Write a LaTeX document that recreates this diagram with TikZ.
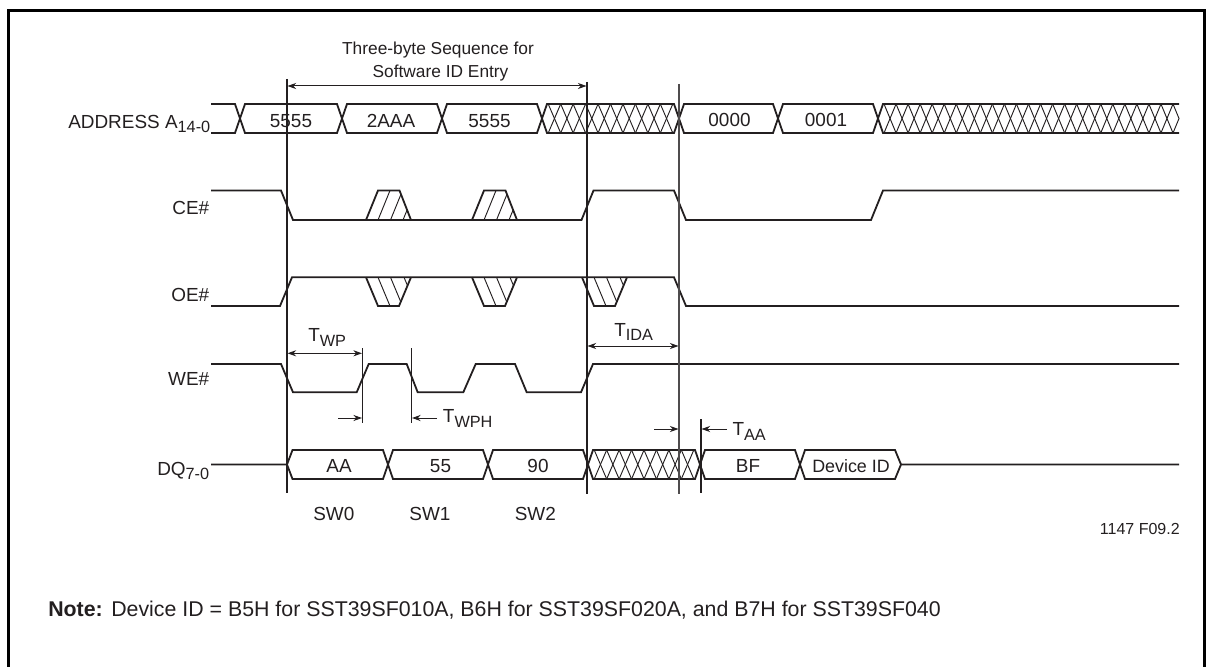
\documentclass[tikz,border=0pt]{standalone}
\usepackage{fontspec}
\setmainfont{Liberation Sans}
\usetikzlibrary{arrows.meta}
\definecolor{ink}{RGB}{35,31,32}
\tikzset{
  sig/.style={draw=ink,line width=1.35pt,line join=miter},
  thinhatch/.style={draw=ink,line width=0.7pt},
  guide/.style={draw=ink,line width=0.8pt},
  guideb/.style={draw=ink!80,line width=1.1pt},
  dim/.style={draw=ink,line width=0.75pt,{Stealth[length=6.5pt,width=4.6pt]}-{Stealth[length=6.5pt,width=4.6pt]}},
  dimr/.style={draw=ink,line width=0.75pt,-{Stealth[length=6.5pt,width=4.6pt]}},
  lab/.style={text=ink,inner sep=0pt,font=\fontsize{14.2}{16}\selectfont},
  small/.style={text=ink,inner sep=0pt,font=\fontsize{12}{14}\selectfont},
}
\newcommand{\subt}[1]{\raisebox{-3.6pt}{\fontsize{12.2}{14}\selectfont #1}}
% crossing hatch between x-points #1 and #2, #3 periods, rows #4 (top) and #5 (bottom)
\newcommand{\hatchrun}[5]{%
  \pgfmathsetmacro{\hp}{(#2-#1)/#3}%
  \pgfmathtruncatemacro{\hlast}{#3-1}%
  \foreach \k in {1,...,\hlast}{%
    \pgfmathsetmacro{\hc}{#1+\k*\hp}%
    \draw[thinhatch] (\hc-\hp/2,#4) -- (\hc+\hp/2,#5);
    \draw[thinhatch] (\hc-\hp/2,#5) -- (\hc+\hp/2,#4);
  }%
}
% slanted hatch strokes in a trapezoid
\newcommand{\trapup}[1]{% left bottom x
  \begin{scope}
    \clip (#1,220) -- (#1+12,190.5) -- (#1+33.5,190.5) -- (#1+45,220) -- cycle;
    \foreach \d in {12,24.5,37}{\draw[thinhatch] (#1+\d,220) -- (#1+\d+12,190.5);}
  \end{scope}
  \draw[sig] (#1,220) -- (#1+12,190.5) -- (#1+33.5,190.5) -- (#1+45,220);
}
\newcommand{\trapdown}[1]{% left top x
  \begin{scope}
    \clip (#1,277.3) -- (#1+12,306) -- (#1+33,306) -- (#1+45,277.3) -- cycle;
    \foreach \d in {12,24.5,38}{\draw[thinhatch] (#1+\d,277.3) -- (#1+\d+12,306);}
  \end{scope}
  \draw[sig] (#1,277.3) -- (#1+12,306) -- (#1+33,306) -- (#1+45,277.3);
}
\begin{document}
\begin{tikzpicture}[x=0.75pt,y=-0.75pt]
\useasboundingbox (0,0) rectangle (1213,667);
% frame (open at the bottom)
\draw[black,line width=1.9pt] (8.7,667) -- (8.7,10.5) -- (1204.5,10.5) -- (1204.5,667);

% ADDRESS
\draw[sig] (211,104)--(235,104)--(245,133)--(337,133)--(347,104)--(437,104)--(447,133)--(537,133)--(547,104)--(674,104)--(684,133)--(773,133)--(783,104)--(873,104)--(883,133)--(1179,133);
\draw[sig] (211,133)--(235,133)--(245,104)--(337,104)--(347,133)--(437,133)--(447,104)--(537,104)--(547,133)--(674,133)--(684,104)--(773,104)--(783,133)--(873,133)--(883,104)--(1179,104);
\hatchrun{542}{679}{11}{104}{133}
\hatchrun{878}{1179}{25}{104}{133}
\draw[thinhatch] (1173,104) -- (1179,118.5) -- (1173,133);

% CE#
\draw[sig] (211,190.5)--(281,190.5)--(293,220)--(581.5,220)--(593.5,190.5)--(674,190.5)--(686,220)--(871,220)--(883,190.5)--(1179,190.5);
\trapup{366}
\trapup{472}

% OE#
\draw[sig] (211,306)--(280,306)--(292,277.3)--(674,277.3)--(686,306)--(1179,306);
\trapdown{366}
\trapdown{472}
\trapdown{582}

% WE#
\draw[sig] (211,364)--(281,364)--(293,392.3)--(356.7,392.3)--(368.7,364)--(406.7,364)--(417.7,392.3)--(463.3,392.3)--(475.7,364)--(515,364)--(526.7,392.3)--(581,392.3)--(593,364)--(1179,364);

% DQ
\draw[sig] (211,464.5)--(287,464.5)--(292.5,450)--(383,450)--(393,479)--(483,479)--(493,450)--(583,450)--(593,479)--(695,479)--(705,450)--(795,450)--(805,479)--(895,479)--(901,464.5)--(1179,464.5);
\draw[sig] (287,464.5)--(292.5,479)--(383,479)--(393,450)--(483,450)--(493,479)--(583,479)--(593,450)--(695,450)--(705,479)--(795,479)--(805,450)--(895,450)--(901,464.5);
\hatchrun{588}{700}{9}{450}{479}

% text on the waves
\node[lab,anchor=base] (a1) at (291,127.5) {5555};
\node[lab,anchor=base] (a2) at (391,127.5) {2AAA};
\node[lab,anchor=base] (a3) at (489.5,127.5) {5555};
\node[lab,anchor=base] (a4) at (729.5,127) {0000};
\node[lab,anchor=base] (a5) at (826,127) {0001};
\node[lab,anchor=base] (d1) at (339,472) {AA};
\node[lab,anchor=base] (d2) at (440.5,472) {55};
\node[lab,anchor=base] (d3) at (538,472) {90};
\node[lab,anchor=base] (d4) at (748,472) {BF};
\node[text=ink,inner sep=0pt,font=\fontsize{13.4}{16}\selectfont,anchor=base] (d5) at (851,472) {Device ID};

% guide lines
\coordinate (gAt) at (287,79);   \coordinate (gAb) at (287,492.7);
\coordinate (gBt) at (587,82);   \coordinate (gBb) at (587,493.5);
\coordinate (gCt) at (679,84);   \coordinate (gCb) at (679,493.5);
\coordinate (gDt) at (701,419);  \coordinate (gDb) at (701,493);
\coordinate (gEt) at (362.4,348);\coordinate (gEb) at (362.4,423);
\coordinate (gFt) at (411.4,348);\coordinate (gFb) at (411.4,423);
\draw[guide] (gAt) -- (gAb);
\draw[guide] (gBt) -- (gBb);
\draw[guideb] (gCt) -- (gCb);
\draw[guide] (gDt) -- (gDb);
\draw[guide] (gEt) -- (gEb);
\draw[guide] (gFt) -- (gFb);

% dimension arrows
\coordinate (seqL) at (287.5,86);  \coordinate (seqR) at (586.5,86);
\draw[dim] (seqL) -- (seqR);
\coordinate (wpL) at (287.5,353.3); \coordinate (wpR) at (362,353.3);
\draw[dim] (wpL) -- (wpR);
\coordinate (idaL) at (587.5,346); \coordinate (idaR) at (678.5,346);
\draw[dim] (idaL) -- (idaR);
\coordinate (wphA) at (338,418); \coordinate (wphAe) at (362,418);
\draw[dimr] (wphA) -- (wphAe);
\coordinate (wphB) at (437,418); \coordinate (wphBe) at (412,418);
\draw[dimr] (wphB) -- (wphBe);
\coordinate (aaA) at (654,429); \coordinate (aaAe) at (678.5,429);
\draw[dimr] (aaA) -- (aaAe);
\coordinate (aaB) at (727,429); \coordinate (aaBe) at (701.5,429);
\draw[dimr] (aaB) -- (aaBe);

% labels
\node[text=ink,inner sep=0pt,font=\fontsize{13}{16}\selectfont,anchor=base] (t1) at (438,55) {Three-byte Sequence for};
\node[text=ink,inner sep=0pt,font=\fontsize{13}{16}\selectfont,anchor=base] (t2) at (440.5,78) {Software ID Entry};
\node[lab,anchor=base west] (laddr) at (68,128) {ADDRESS A\subt{14-0}};
\node[lab,anchor=base east] (lce) at (209.5,214) {CE\#};
\node[lab,anchor=base east] (loe) at (209.5,301) {OE\#};
\node[lab,anchor=base east] (lwe) at (209.5,385) {WE\#};
\node[lab,anchor=base west] (ldq) at (157,475) {DQ\subt{7-0}};
\node[lab,anchor=base west] (twp) at (308,341.7) {T\subt{WP}};
\node[lab,anchor=base west] (twph) at (442.7,422.7) {T\subt{WPH}};
\node[lab,anchor=base west] (tida) at (614,336) {T\subt{IDA}};
\node[lab,anchor=base west] (taa) at (732.3,435.7) {T\subt{AA}};
\node[lab,anchor=base] (sw0) at (333.8,520) {SW0};
\node[lab,anchor=base] (sw1) at (430,520.5) {SW1};
\node[lab,anchor=base] (sw2) at (535.3,520) {SW2};
\node[small,anchor=base east] (fig) at (1180,534) {1147 F09.2};
\node[text=ink,inner sep=0pt,font=\fontsize{16}{18}\selectfont,anchor=base west] (note) at (48,616) {\textbf{Note:}\hspace{0.4em}Device ID = B5H for SST39SF010A, B6H for SST39SF020A, and B7H for SST39SF040};
\end{tikzpicture}
\end{document}
